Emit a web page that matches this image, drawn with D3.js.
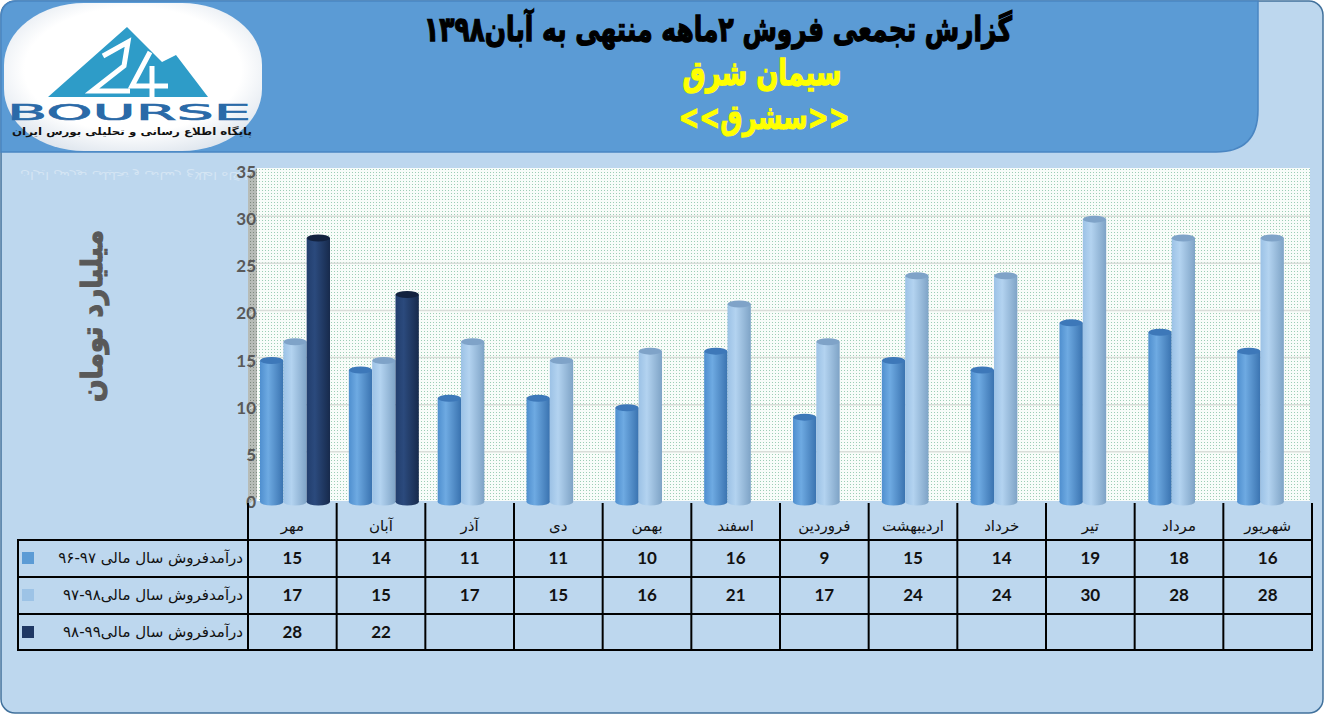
<!DOCTYPE html>
<html><head><meta charset="utf-8">
<script src="https://cdn.jsdelivr.net/npm/d3@7"></script>
<style>
html,body{margin:0;padding:0;background:#fff;}
svg{display:block;}
</style></head>
<body>
<svg id="chart" width="1327" height="717"></svg>
<script>
// ---------- DATA ----------
const categories = ["مهر","آبان","آذر","دی","بهمن","اسفند","فروردین","اردیبهشت","خرداد","تیر","مرداد","شهریور"];
const sales9697 = [15,14,11,11,10,16,9,15,14,19,18,16];
const sales9798 = [17,15,17,15,16,21,17,24,24,30,28,28];
const sales9899 = [28,22,null,null,null,null,null,null,null,null,null,null];
const seriesNames = ["درآمدفروش سال مالی ۹۷-۹۶","درآمدفروش سال مالی۹۸-۹۷","درآمدفروش سال مالی۹۹-۹۸"];
const yTicks = [0,5,10,15,20,25,30,35];
const titleMain = "گزارش تجمعی فروش ۲ماهه منتهی به آبان۱۳۹۸";
const titleCompany = "سیمان شرق";
const titleSymbol = "<<سشرق>>";
const yAxisTitle = "میلیارد تومان";
const logoCaption = "پایگاه اطلاع رسانی و تحلیلی بورس ایران";

const seriesData = [sales9697, sales9798, sales9899];
const seriesColors = [
  {base:"#5B9BD5", l:"#4f8fcf", m:"#6eaae2", r:"#3a73b0", top:"#3d78b9"},
  {base:"#9DC3E6", l:"#9cc2e6", m:"#b3d3f0", r:"#7ea3c6", top:"#7fa3c8"},
  {base:"#1F3864", l:"#223e6d", m:"#2b4a7d", r:"#172a4c", top:"#13223f"}
];

const svg = d3.select("#chart");
const defs = svg.append("defs");
const FA = "'DejaVu Sans', sans-serif";
const NUM = "Lato, 'Open Sans', sans-serif";

seriesColors.forEach((c,i)=>{
  const g = defs.append("linearGradient").attr("id","cyl"+i).attr("x1","0").attr("x2","1").attr("y1","0").attr("y2","0");
  g.append("stop").attr("offset","0%").attr("stop-color",c.l);
  g.append("stop").attr("offset","35%").attr("stop-color",c.m);
  g.append("stop").attr("offset","100%").attr("stop-color",c.r);
});
const pat = defs.append("pattern").attr("id","dots").attr("width",3).attr("height",3).attr("patternUnits","userSpaceOnUse");
pat.append("rect").attr("width",3).attr("height",3).attr("fill","#f8fcf9");
pat.append("rect").attr("x",1).attr("y",1).attr("width",1).attr("height",1).attr("fill","#9ccdb5");
const pat2 = defs.append("pattern").attr("id","walldots").attr("width",3).attr("height",3).attr("patternUnits","userSpaceOnUse");
pat2.append("rect").attr("width",3).attr("height",3).attr("fill","#b7bcb7");
pat2.append("rect").attr("x",1).attr("y",1).attr("width",1).attr("height",1).attr("fill","#7f8a80");
const lg = defs.append("radialGradient").attr("id","logoG").attr("cx","50%").attr("cy","45%").attr("r","60%");
lg.append("stop").attr("offset","70%").attr("stop-color","#ffffff");
lg.append("stop").attr("offset","100%").attr("stop-color","#dfe6ee");

// ---------- FRAME ----------
svg.append("rect").attr("x",1).attr("y",1).attr("width",1322).attr("height",712).attr("rx",14)
  .attr("fill","#BDD7EE").attr("stroke","#41719C").attr("stroke-width",1.5);
svg.append("path").attr("d","M1,18 Q1,1 18,1 L1258,1 L1258,110 Q1258,152 1216,152 L1,152 Z")
  .attr("fill","#5B9BD5").attr("stroke","#4A86C2").attr("stroke-width",1.5);

// ---------- LOGO ----------
const logo = svg.append("g");
logo.append("rect").attr("x",4).attr("y",3).attr("width",258).attr("height",148).attr("rx",80).attr("ry",62)
  .attr("fill","url(#logoG)");
logo.append("polygon").attr("points","48,97 127,27 162,62 176,55 208,97").attr("fill","#2E9CC8");
logo.append("path").attr("d","M103,56 L128,42 L124,66 L92,91 L130,91")
  .attr("fill","none").attr("stroke","#fff").attr("stroke-width",5).attr("stroke-linejoin","miter");
logo.append("path").attr("d","M150,52 L132,86 L168,86 M152,66 L152,97")
  .attr("fill","none").attr("stroke","#fff").attr("stroke-width",5);
logo.append("text").attr("x",7).attr("y",120).text("BOURSE")
  .attr("font-family","'DejaVu Sans', sans-serif").attr("font-size",21).attr("fill","#2A6AA8")
  .attr("stroke","#2A6AA8").attr("stroke-width",0.6)
  .attr("textLength",244).attr("lengthAdjust","spacingAndGlyphs");
logo.append("text").attr("x",252).attr("y",135).text(logoCaption)
  .attr("font-family",FA).attr("font-weight","bold").attr("font-size",10).attr("fill","#111")
  .style("direction","rtl").attr("text-anchor","start")
  .attr("textLength",240).attr("lengthAdjust","spacingAndGlyphs");
svg.append("text").attr("x",252).attr("y",-172).attr("transform","scale(1,-1)").text(logoCaption)
  .attr("font-family",FA).attr("font-size",10).attr("fill","#ffffff").attr("opacity",0.35)
  .style("direction","rtl").attr("text-anchor","start")
  .attr("textLength",232).attr("lengthAdjust","spacingAndGlyphs");

// ---------- TITLES ----------
svg.append("text").attr("x",718).attr("y",41).text(titleMain)
  .attr("font-family",FA).attr("font-weight","bold").attr("font-size",34).attr("fill","#000")
  .attr("stroke","#000").attr("stroke-width",1.3)
  .attr("text-anchor","middle").style("direction","rtl")
  .attr("textLength",588).attr("lengthAdjust","spacingAndGlyphs");
svg.append("text").attr("x",762).attr("y",85).text(titleCompany)
  .attr("font-family",FA).attr("font-weight","bold").attr("font-size",35).attr("fill","#FFFF00")
  .attr("stroke","#FFFF00").attr("stroke-width",1.4)
  .attr("text-anchor","middle").style("direction","rtl")
  .attr("textLength",159).attr("lengthAdjust","spacingAndGlyphs");
svg.append("text").attr("x",764).attr("y",129).text(titleSymbol)
  .attr("font-family",FA).attr("font-weight","bold").attr("font-size",34).attr("fill","#FFFF00")
  .attr("stroke","#FFFF00").attr("stroke-width",1.1)
  .attr("text-anchor","middle").style("direction","ltr")
  .attr("textLength",171).attr("lengthAdjust","spacingAndGlyphs");

// ---------- SCALES ----------
const y = d3.scaleLinear().domain([0,35]).range([502,172]);
const xCat = d3.scaleBand().domain(d3.range(categories.length)).range([249,1315]).padding(0);
const xSer = d3.scaleBand().domain([0,1,2]).range([11,81]).padding(0);
const xTab = d3.scaleBand().domain(d3.range(categories.length)).range([248,1312]).padding(0);

// ---------- PLOT AREA ----------
svg.append("rect").attr("x",257).attr("y",168).attr("width",1053).attr("height",333).attr("fill","url(#dots)");
svg.append("polygon").attr("points","248,176 257,168 257,498 248,504").attr("fill","url(#walldots)");
svg.append("g").selectAll("line").data(yTicks.filter(d=>d>0 && d<35)).join("line")
  .attr("x1",257).attr("x2",1310).attr("y1",d=>y(d)-3).attr("y2",d=>y(d)-3)
  .attr("stroke","#d9ddd9").attr("stroke-width",1.5);
svg.append("g").selectAll("line").data(yTicks.filter(d=>d>0 && d<35)).join("line")
  .attr("x1",248).attr("x2",257).attr("y1",d=>y(d)+2).attr("y2",d=>y(d)-3)
  .attr("stroke","#d9ddd9").attr("stroke-width",1.5);

const yAxis = d3.axisLeft(y).tickValues(yTicks).tickSize(0).tickPadding(0);
const yg = svg.append("g").attr("transform","translate(256,0)").call(yAxis);
yg.select(".domain").remove();
yg.selectAll("text").attr("font-family",NUM).attr("font-weight","bold").attr("font-size",17).attr("fill","#595959");

svg.append("text").attr("transform","translate(102,316) rotate(-90)").text(yAxisTitle)
  .attr("font-family",FA).attr("font-weight","bold").attr("font-size",29).attr("fill","#595959")
  .attr("stroke","#595959").attr("stroke-width",1.2)
  .attr("text-anchor","middle").style("direction","rtl")
  .attr("textLength",172).attr("lengthAdjust","spacingAndGlyphs");

// ---------- BARS ----------
const bars = [];
seriesData.forEach((arr,si)=>arr.forEach((v,ci)=>{ if(v!=null) bars.push({si,ci,v}); }));
const bg = svg.append("g");
const base = y(0);
const gBar = bg.selectAll("g").data(bars).join("g");
gBar.append("ellipse")
  .attr("cx",d=>xCat(d.ci)+xSer(d.si)+xSer.bandwidth()/2).attr("cy",base)
  .attr("rx",xSer.bandwidth()/2).attr("ry",3.5).attr("fill",d=>`url(#cyl${d.si})`);
gBar.append("rect")
  .attr("x",d=>xCat(d.ci)+xSer(d.si)).attr("y",d=>y(d.v))
  .attr("width",xSer.bandwidth()).attr("height",d=>base-y(d.v)).attr("fill",d=>`url(#cyl${d.si})`);
gBar.append("ellipse")
  .attr("cx",d=>xCat(d.ci)+xSer(d.si)+xSer.bandwidth()/2).attr("cy",d=>y(d.v))
  .attr("rx",xSer.bandwidth()/2).attr("ry",3.5).attr("fill",d=>seriesColors[d.si].top);

// ---------- DATA TABLE ----------
const tb = svg.append("g");
const rowY = [503,540,577,614,650];
const lineAttr = s=>s.attr("stroke","#000").attr("stroke-width",2);
[540,577,614,650].forEach(yy=>lineAttr(tb.append("line").attr("x1",18).attr("x2",1312).attr("y1",yy).attr("y2",yy)));
lineAttr(tb.append("line").attr("x1",18).attr("x2",18).attr("y1",539).attr("y2",651));
d3.range(categories.length+1).forEach(i=>{
  const xx = i<categories.length ? xTab(i) : xTab.range()[1];
  lineAttr(tb.append("line").attr("x1",xx).attr("x2",xx).attr("y1",503).attr("y2",651));
});
tb.selectAll("text.cat").data(categories).join("text").attr("class","cat")
  .attr("x",(d,i)=>xTab(i)+xTab.bandwidth()/2).attr("y",531).text(d=>d)
  .attr("font-family",FA).attr("font-size",15).attr("fill","#111").attr("text-anchor","middle").style("direction","rtl");
seriesData.forEach((arr,si)=>{
  tb.selectAll("text.v"+si).data(arr).join("text").attr("class","v"+si)
    .attr("x",(d,i)=>xTab(i)+xTab.bandwidth()/2).attr("y",rowY[si+1]+24)
    .text(d=>d==null?"":d)
    .attr("font-family",NUM).attr("font-weight","bold").attr("font-size",17).attr("fill","#111").attr("text-anchor","middle");
  tb.append("rect").attr("x",22).attr("y",rowY[si+1]+12).attr("width",12).attr("height",12).attr("fill",seriesColors[si].base);
  const lt = tb.append("text").attr("x",243).attr("y",rowY[si+1]+23).text(seriesNames[si])
    .attr("font-family",FA).attr("font-size",15).attr("fill","#111")
    .style("direction","rtl").attr("text-anchor","start");
  const w = lt.node().getComputedTextLength();
  if (w>201) lt.attr("textLength",201).attr("lengthAdjust","spacingAndGlyphs");
});
</script>
</body></html>
